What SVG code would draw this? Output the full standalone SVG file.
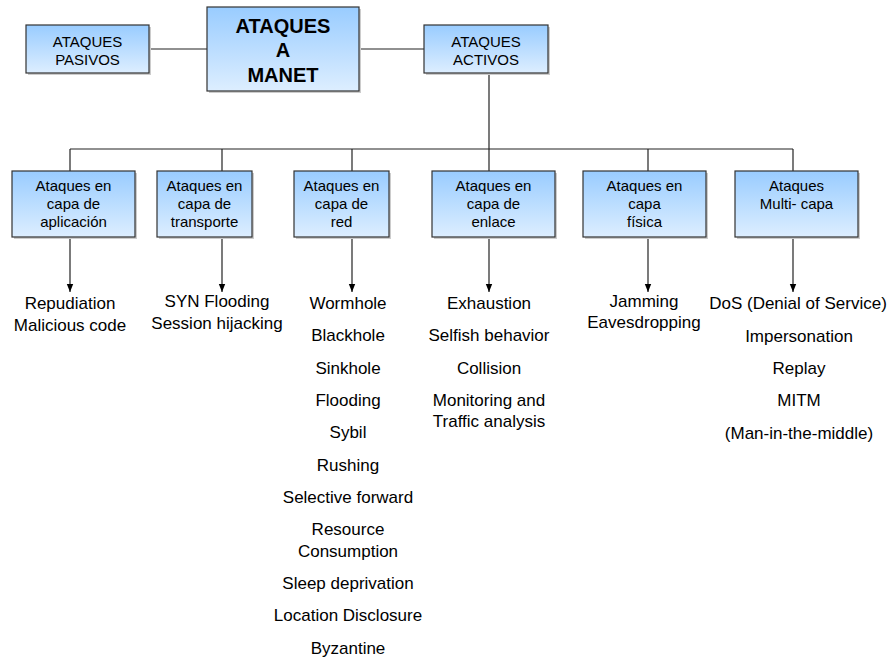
<svg xmlns="http://www.w3.org/2000/svg" width="893" height="659" viewBox="0 0 893 659">
<defs>
<linearGradient id="g" x1="0" y1="0" x2="0" y2="1">
<stop offset="0" stop-color="#99CCFF"/>
<stop offset="1" stop-color="#DDEEFF"/>
</linearGradient>
<marker id="arr" viewBox="0 0 8 8" refX="8" refY="4" markerWidth="8" markerHeight="8" markerUnits="userSpaceOnUse" orient="auto">
<path d="M0,0.8 L8,4 L0,7.2 Z" fill="#000"/>
</marker>
</defs>
<style>
.box{fill:url(#g);stroke:#333;stroke-width:1.2}
.sh{fill:#ccc}
.t{font-family:"Liberation Sans",Arial,sans-serif;font-size:15px;fill:#000;text-anchor:middle}
.tb{font-family:"Liberation Sans",Arial,sans-serif;font-size:20px;font-weight:bold;fill:#000;text-anchor:middle}
.l{font-family:"Liberation Sans",Arial,sans-serif;font-size:17px;fill:#000;text-anchor:middle}
.c{stroke:#222;stroke-width:1.2;fill:none}
.a{stroke:#222;stroke-width:1.2;fill:none;marker-end:url(#arr)}
</style>
<rect width="893" height="659" fill="#fff"/>
<g id="connectors">
<line class="c" x1="149" y1="49" x2="207" y2="49"/>
<line class="c" x1="359" y1="49" x2="424" y2="49"/>
<line class="c" x1="489" y1="73" x2="489" y2="149"/>
<line class="c" x1="70" y1="149" x2="793" y2="149"/>
<line class="c" x1="70" y1="149" x2="70" y2="171"/>
<line class="c" x1="222" y1="149" x2="222" y2="171"/>
<line class="c" x1="352" y1="149" x2="352" y2="171"/>
<line class="c" x1="489" y1="149" x2="489" y2="171"/>
<line class="c" x1="648" y1="149" x2="648" y2="171"/>
<line class="c" x1="793" y1="149" x2="793" y2="171"/>
<line class="a" x1="70" y1="237" x2="70" y2="292"/>
<line class="a" x1="222" y1="237" x2="222" y2="292"/>
<line class="a" x1="352" y1="237" x2="352" y2="292"/>
<line class="a" x1="489" y1="237" x2="489" y2="292"/>
<line class="a" x1="648" y1="237" x2="648" y2="292"/>
<line class="a" x1="793" y1="237" x2="793" y2="292"/>
</g>
<g id="pasivos">
<rect class="sh" x="28" y="27" width="123" height="48"/>
<rect class="box" x="26" y="25" width="123" height="48"/>
<text class="t" x="87.5" y="47">ATAQUES</text>
<text class="t" x="87.5" y="65">PASIVOS</text>
</g>
<g id="manet">
<rect class="sh" x="209" y="9" width="152" height="84"/>
<rect class="box" x="207" y="7" width="152" height="84"/>
<text class="tb" x="283" y="33">ATAQUES</text>
<text class="tb" x="283" y="57">A</text>
<text class="tb" x="283" y="82">MANET</text>
</g>
<g id="activos">
<rect class="sh" x="426" y="27" width="124" height="48"/>
<rect class="box" x="424" y="25" width="124" height="48"/>
<text class="t" x="486" y="47">ATAQUES</text>
<text class="t" x="486" y="65">ACTIVOS</text>
</g>
<g id="aplicacion">
<rect class="sh" x="14" y="173" width="123" height="66"/>
<rect class="box" x="12" y="171" width="123" height="66"/>
<text class="t" x="73.5" y="191">Ataques en</text>
<text class="t" x="73.5" y="209">capa de</text>
<text class="t" x="73.5" y="227">aplicación</text>
</g>
<g id="transporte">
<rect class="sh" x="159" y="173" width="95" height="66"/>
<rect class="box" x="157" y="171" width="95" height="66"/>
<text class="t" x="204.5" y="191">Ataques en</text>
<text class="t" x="204.5" y="209">capa de</text>
<text class="t" x="204.5" y="227">transporte</text>
</g>
<g id="red">
<rect class="sh" x="296" y="173" width="95" height="66"/>
<rect class="box" x="294" y="171" width="95" height="66"/>
<text class="t" x="341.5" y="191">Ataques en</text>
<text class="t" x="341.5" y="209">capa de</text>
<text class="t" x="341.5" y="227">red</text>
</g>
<g id="enlace">
<rect class="sh" x="434" y="173" width="123" height="66"/>
<rect class="box" x="432" y="171" width="123" height="66"/>
<text class="t" x="493.5" y="191">Ataques en</text>
<text class="t" x="493.5" y="209">capa de</text>
<text class="t" x="493.5" y="227">enlace</text>
</g>
<g id="fisica">
<rect class="sh" x="585" y="173" width="123" height="66"/>
<rect class="box" x="583" y="171" width="123" height="66"/>
<text class="t" x="644.5" y="191">Ataques en</text>
<text class="t" x="644.5" y="209">capa</text>
<text class="t" x="644.5" y="227">física</text>
</g>
<g id="multicapa">
<rect class="sh" x="737" y="173" width="123" height="66"/>
<rect class="box" x="735" y="171" width="123" height="66"/>
<text class="t" x="796.5" y="191">Ataques</text>
<text class="t" x="796.5" y="209">Multi- capa</text>
</g>
<g id="list-aplicacion">
<text class="l" x="70" y="309">Repudiation</text>
<text class="l" x="70" y="331">Malicious code</text>
</g>
<g id="list-transporte">
<text class="l" x="217" y="307">SYN Flooding</text>
<text class="l" x="217" y="329">Session hijacking</text>
</g>
<g id="list-red">
<text class="l" x="348" y="309">Wormhole</text>
<text class="l" x="348" y="341">Blackhole</text>
<text class="l" x="348" y="374">Sinkhole</text>
<text class="l" x="348" y="406">Flooding</text>
<text class="l" x="348" y="438">Sybil</text>
<text class="l" x="348" y="471">Rushing</text>
<text class="l" x="348" y="503">Selective forward</text>
<text class="l" x="348" y="535">Resource</text>
<text class="l" x="348" y="557">Consumption</text>
<text class="l" x="348" y="589">Sleep deprivation</text>
<text class="l" x="348" y="621">Location Disclosure</text>
<text class="l" x="348" y="654">Byzantine</text>
</g>
<g id="list-enlace">
<text class="l" x="489" y="309">Exhaustion</text>
<text class="l" x="489" y="341">Selfish behavior</text>
<text class="l" x="489" y="374">Collision</text>
<text class="l" x="489" y="406">Monitoring  and</text>
<text class="l" x="489" y="427">Traffic analysis</text>
</g>
<g id="list-fisica">
<text class="l" x="644" y="307">Jamming</text>
<text class="l" x="644" y="328">Eavesdropping</text>
</g>
<g id="list-multicapa">
<text class="l" x="798" y="309">DoS (Denial of Service)</text>
<text class="l" x="799" y="342">Impersonation</text>
<text class="l" x="799" y="374">Replay</text>
<text class="l" x="799" y="406">MITM</text>
<text class="l" x="799" y="439">(Man-in-the-middle)</text>
</g>
</svg>
